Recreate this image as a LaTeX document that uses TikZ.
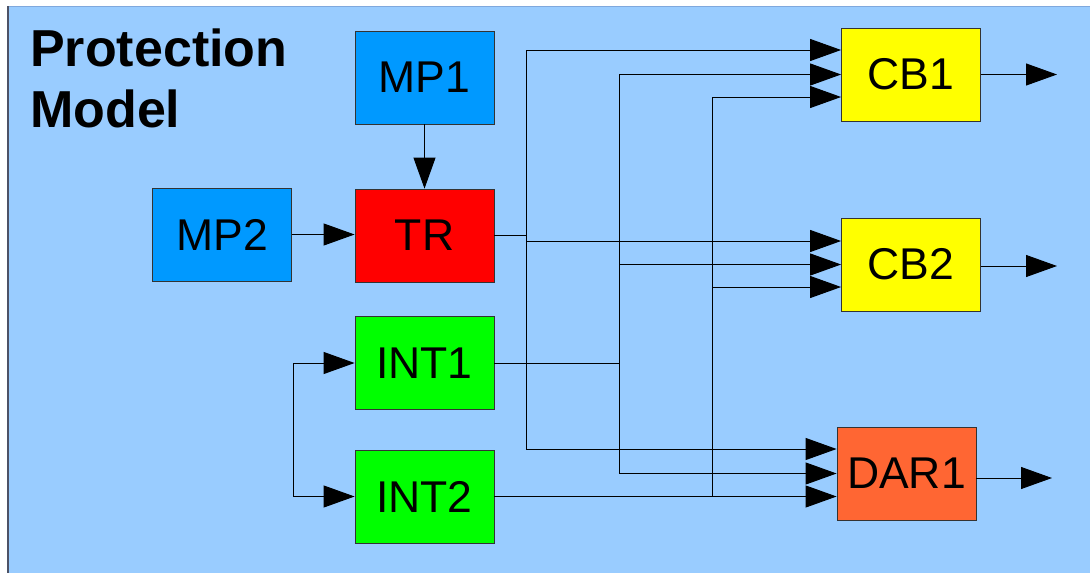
\documentclass[tikz,border=0pt]{standalone}
\usepackage{fontspec}
\setmainfont{Liberation Sans}
\usetikzlibrary{arrows.meta,calc}
\definecolor{bg}{HTML}{99CCFF}
\definecolor{mpblue}{HTML}{0099FF}
\definecolor{trred}{HTML}{FF0000}
\definecolor{intgreen}{HTML}{00FF00}
\definecolor{cbyellow}{HTML}{FFFF00}
\definecolor{darorange}{HTML}{FF6633}
\definecolor{boxline}{HTML}{333333}
\definecolor{edgeleft}{HTML}{4D5266}
\definecolor{edgetop}{HTML}{7FA8DD}
\begin{document}
\begin{tikzpicture}[x=1pt,y=-1pt,
  box/.style={draw=boxline, line width=0.8pt, minimum width=139pt, minimum height=93pt, inner sep=0pt, font=\fontsize{44.5}{50}\selectfont},
  conn/.style={line width=1pt, draw=black},
  arr/.style={conn, -{Triangle[length=31pt,width=22pt]}},
  darr/.style={conn, {Triangle[length=31pt,width=22pt]}-{Triangle[length=31pt,width=22pt]}}]
\useasboundingbox (0,0) rectangle (1090,573);
\fill[bg] (8,6) rectangle (1090,573);
\draw[edgetop, line width=1pt] (8,6) -- (1090,6);
\draw[edgeleft, line width=1.2pt] (8,573) -- (8,6);

\node[anchor=base west, inner sep=0pt, align=left, font=\fontsize{52}{61}\selectfont\bfseries] (title) at (30,127) {Protection\\Model};

\node[box, fill=mpblue] (MP1) at (424.5,77.5) {MP1};
\node[box, fill=mpblue] (MP2) at (222,234.5) {MP2};
\node[box, fill=trred] (TR) at (424.5,235.5) {TR};
\node[box, fill=intgreen] (INT1) at (424.5,363) {INT1};
\node[box, fill=intgreen] (INT2) at (424.5,496.5) {INT2};
\node[box, fill=cbyellow] (CB1) at (911,74.5) {CB1};
\node[box, fill=cbyellow] (CB2) at (911,264.5) {CB2};
\node[box, fill=darorange] (DAR1) at (906.5,473.5) {DAR1};

\coordinate (xl) at (293,0);
\coordinate (xa) at (526,0);
\coordinate (xb) at (619,0);
\coordinate (xc) at (712,0);
\coordinate (out1) at (1057,74.5);
\coordinate (out2) at (1057,266);
\coordinate (out3) at (1052,478);

\draw[arr] (MP1) -- (TR);
\draw[arr] (MP2.east) -- (TR.west |- MP2.east);
\draw[darr] (INT1.west) -- (INT1.west -| xl) |- (INT2.west);

\draw[conn] (TR.east) -- (TR.east -| xa);
\draw[arr] (TR.east -| xa) |- ([yshift=24.5pt]CB1.west);
\draw[arr] (TR.east -| xa) |- ([yshift=23.5pt]CB2.west);
\draw[arr] (TR.east -| xa) |- ([yshift=24.5pt]DAR1.west);

\draw[conn] (INT1.east) -- (INT1.east -| xb);
\draw[arr] (INT1.east -| xb) |- (CB1.west);
\draw[arr] (INT1.east -| xb) |- (CB2.west);
\draw[arr] (INT1.east -| xb) |- (DAR1.west);

\draw[arr] (INT2.east) -- (INT2.east -| DAR1.west);
\draw[arr] (INT2.east -| xc) |- ([yshift=-22.5pt]CB1.west);
\draw[arr] (INT2.east -| xc) |- ([yshift=-22.5pt]CB2.west);

\draw[arr] (CB1.east) -- (out1);
\draw[arr] (CB2.east |- out2) -- (out2);
\draw[arr] (DAR1.east |- out3) -- (out3);
\end{tikzpicture}
\end{document}
